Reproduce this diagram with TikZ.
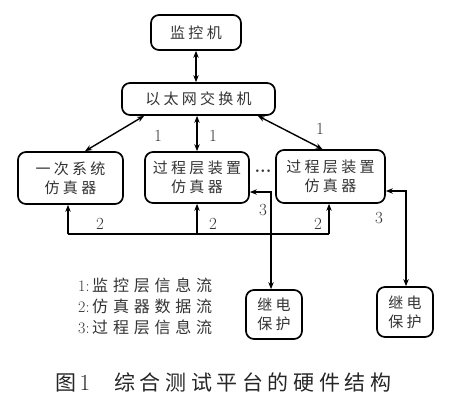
\documentclass[tikz,border=0pt]{standalone}
\usepackage{fontspec}
\newfontfamily\cjk[LetterSpace=22]{Noto Sans CJK SC}
\newfontfamily\cjkw[LetterSpace=30]{Noto Sans CJK SC}
\usetikzlibrary{arrows.meta}
\begin{document}
\begin{tikzpicture}[x=1pt,y=-1pt,
  box/.style={draw, line width=1.7pt, rounded corners=8pt, align=center, inner sep=0pt,
    text=black!80, font=\fontsize{15}{19}\selectfont\cjk},
  con/.style={line width=1.4pt, {Stealth[length=7pt,width=5.5pt]}-{Stealth[length=7pt,width=5.5pt]}},
  toarr/.style={line width=1.4pt, -{Stealth[length=7pt,width=5.5pt]}},
  plain/.style={line width=1.4pt},
  num/.style={text=black!80, font=\fontsize{17}{19}\selectfont}]
\useasboundingbox (0,0) rectangle (454,412);
\node[box, minimum width=90pt, minimum height=35pt] (mon) at (196,32.5) {监控机};
\node[box, minimum width=153pt, minimum height=32pt] (sw) at (198.5,99) {以太网交换机};
\node[box, minimum width=105pt, minimum height=52pt] (s1) at (70.5,178) {一次系统\\仿真器};
\node[box, minimum width=104pt, minimum height=51pt] (s2) at (197,177.5) {过程层装置\\仿真器};
\node[box, minimum width=109pt, minimum height=53pt] (s3) at (330.5,176.5) {过程层装置\\仿真器};
\node[box, minimum width=56pt, minimum height=49pt] (r1) at (274,314.5) {继电\\保护};
\node[box, minimum width=56pt, minimum height=50pt] (r2) at (405,312) {继电\\保护};
\node[num, font=\fontsize{18}{19}\selectfont\bfseries] (dots) at (263,171) {...};
% switch links
\draw[con] (mon.south) -- (mon.south |- sw.north);
\draw[con] ([xshift=23pt]sw.south west) -- ([xshift=14.5pt]s1.north);
\draw[con] (s2.north) -- (s2.north |- sw.south);
\draw[con] ([xshift=-18pt]sw.south east) -- ([xshift=-8pt]s3.north);
\node[num] (l1a) at (158,136) {1};
\node[num] (l1b) at (213,136) {1};
\node[num] (l1c) at (320,129) {1};
% data bus
\coordinate (bl) at (68,234);
\coordinate (br) at (329,234);
\draw[plain] (bl) -- (br);
\draw[toarr] (bl) -- (bl |- s1.south);
\draw[toarr] (s2.south |- bl) -- (s2.south);
\draw[toarr] (br) -- (br |- s3.south);
\node[num] (l2a) at (100,224) {2};
\node[num] (l2b) at (213,224) {2};
\node[num] (l2c) at (318,224) {2};
% process layer
\draw[con] ([yshift=-14.5pt]s2.east) -| ([xshift=-3pt]r1.north);
\draw[con] ([yshift=-14.5pt]s3.east) -| ([xshift=1pt]r2.north);
\node[num] (l3a) at (263,210) {3};
\node[num] (l3b) at (379,218) {3};
% legend
\node[anchor=west, align=left, text=black!80, font=\fontsize{16}{21}\selectfont, inner sep=0pt] (leg) at (78,306)
  {1:\,{\cjkw 监控层信息流}\\2:\,{\cjkw 仿真器数据流}\\3:\,{\cjkw 过程层信息流}};
% caption
\node[text=black!85, font=\fontsize{21}{24}\selectfont, anchor=west, inner sep=0pt] (cap) at (55,382)
  {{\cjk 图}\,{\fontsize{23}{24}\selectfont 1}\hspace{24pt}{\cjk 综合测试平台的硬件结构}};
\end{tikzpicture}
\end{document}
